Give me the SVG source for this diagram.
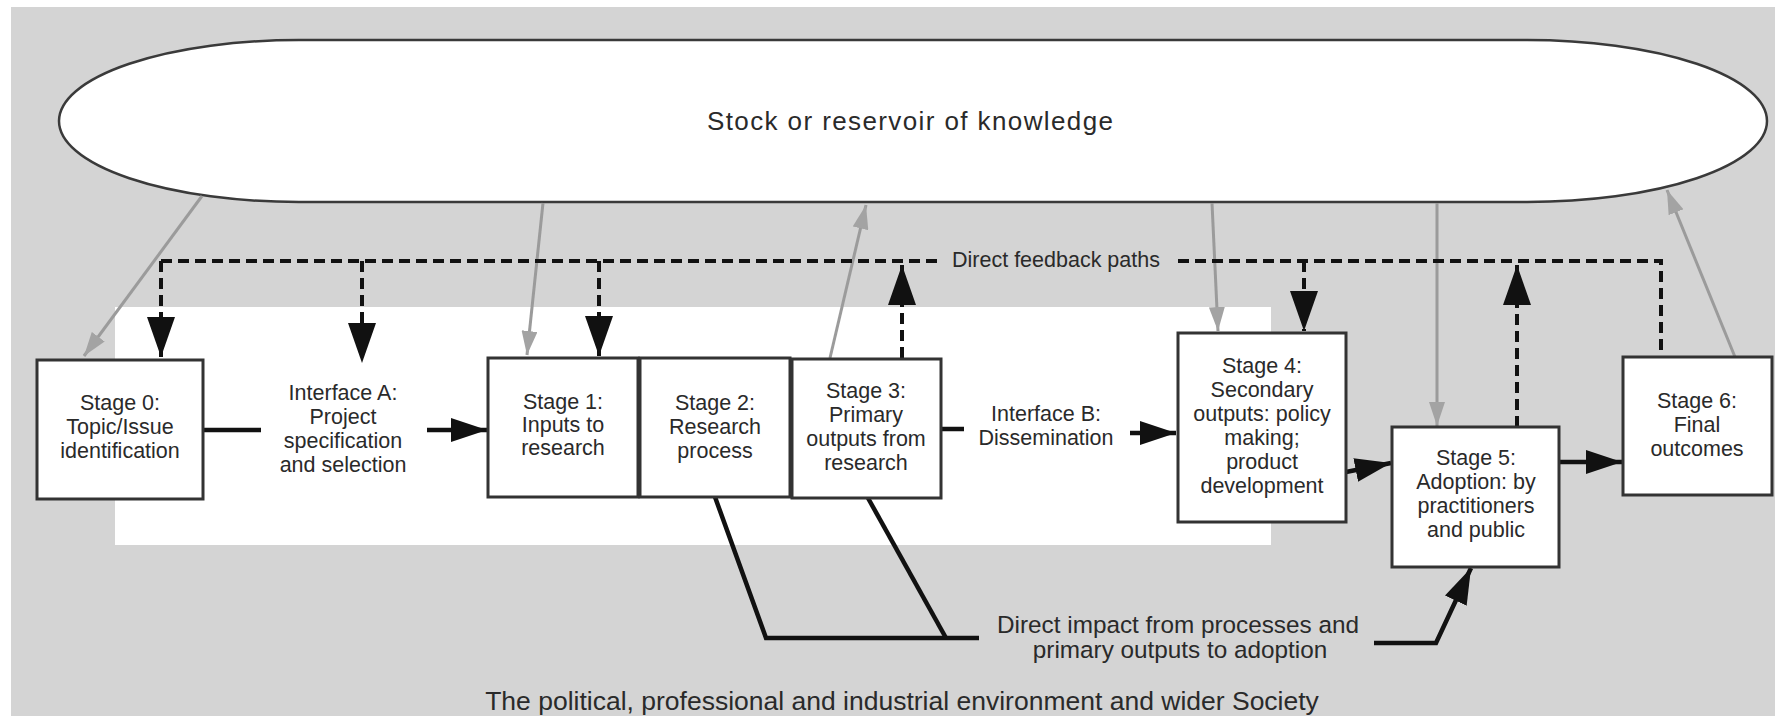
<svg xmlns="http://www.w3.org/2000/svg" width="1785" height="716" viewBox="0 0 1785 716">
<defs>
<style>
.t{font-family:"Liberation Sans",Arial,Helvetica,sans-serif;fill:#2a2a2a;text-anchor:middle}
.lbl{font-size:21.5px}
.box{fill:#ffffff;stroke:#333333;stroke-width:3}
.gray{fill:none;stroke:#9b9b9b;stroke-width:3}
.dash{fill:none;stroke:#111111;stroke-width:4;stroke-dasharray:11 6}
.flow{fill:none;stroke:#111111;stroke-width:4.5}
</style>
<marker id="ahBig" markerUnits="userSpaceOnUse" markerWidth="40" markerHeight="28" refX="40" refY="14" orient="auto" viewBox="0 0 40 28">
<path d="M0,0 L40,14 L0,28 z" fill="#111111"/>
</marker>
<marker id="ahFlow" markerUnits="userSpaceOnUse" markerWidth="36" markerHeight="24" refX="36" refY="12" orient="auto" viewBox="0 0 36 24">
<path d="M0,0 L36,12 L0,24 z" fill="#111111"/>
</marker>
<marker id="ahGray" markerUnits="userSpaceOnUse" markerWidth="24" markerHeight="16" refX="24" refY="8" orient="auto" viewBox="0 0 24 16">
<path d="M0,0 L24,8 L0,16 z" fill="#a3a3a3"/>
</marker>
</defs>

<rect x="0" y="0" width="1785" height="716" fill="#ffffff"/>
<g id="environment">
<rect x="11" y="7" width="1764" height="709" fill="#d4d4d4"/>
<rect x="115" y="307" width="1156" height="238" fill="#ffffff"/>
<text class="t" x="902" y="710" font-size="26.5">The political, professional and industrial environment and wider Society</text>
</g>

<g id="knowledge">
<rect x="59" y="40" width="1708" height="162" rx="240" ry="81" fill="#ffffff" stroke="#3a3a3a" stroke-width="2.5"/>
<text class="t" x="910" y="130" font-size="26" textLength="406" lengthAdjust="spacing">Stock or reservoir of knowledge</text>
</g>

<g id="connectors">
<!-- grey links with the knowledge reservoir -->
<path class="gray" d="M202,196 L84,356" marker-end="url(#ahGray)"/>
<path class="gray" d="M543,203 L527,355" marker-end="url(#ahGray)"/>
<path class="gray" d="M830,358 L866,205" marker-end="url(#ahGray)"/>
<path class="gray" d="M1212,203 L1218,331" marker-end="url(#ahGray)"/>
<path class="gray" d="M1437,203 L1437,426" marker-end="url(#ahGray)"/>
<path class="gray" d="M1735,357 L1667,190" marker-end="url(#ahGray)"/>
<!-- direct feedback paths -->
<path class="dash" d="M161,261 L938,261"/>
<path class="dash" d="M1178,261 L1661,261 L1661,357"/>
<path class="dash" d="M161,261 L161,357" marker-end="url(#ahBig)"/>
<path class="dash" d="M362,261 L362,363" marker-end="url(#ahBig)"/>
<path class="dash" d="M599,261 L599,356" marker-end="url(#ahBig)"/>
<path class="dash" d="M902,358 L902,265" marker-end="url(#ahBig)"/>
<path class="dash" d="M1304,261 L1304,331" marker-end="url(#ahBig)"/>
<path class="dash" d="M1517,427 L1517,265" marker-end="url(#ahBig)"/>
<text class="t" x="1056" y="267" font-size="21.5">Direct feedback paths</text>
<!-- main flow -->
<path class="flow" d="M203,430 L261,430"/>
<path class="flow" d="M427,430 L487,430" marker-end="url(#ahFlow)"/>
<path class="flow" d="M941,429 L964,429"/>
<path class="flow" d="M1130,433 L1176,433" marker-end="url(#ahFlow)"/>
<path class="flow" d="M1346,472 L1391,463" marker-end="url(#ahFlow)"/>
<path class="flow" d="M1559,462 L1622,462" marker-end="url(#ahFlow)"/>
<!-- direct impact -->
<path class="flow" d="M715,497 L766,638 L979,638"/>
<path class="flow" d="M868,498 L946,638"/>
<path class="flow" d="M1374,643 L1436,643 L1471,568" marker-end="url(#ahFlow)"/>
<text class="t" x="1178" y="633" font-size="24.3">Direct impact from processes and</text>
<text class="t" x="1180" y="658" font-size="24.3">primary outputs to adoption</text>
</g>

<g id="stage0">
<rect class="box" x="37" y="360" width="166" height="139"/>
<text class="t lbl" x="120"><tspan x="120" y="410">Stage 0:</tspan><tspan x="120" y="434">Topic/Issue</tspan><tspan x="120" y="458">identification</tspan></text>
</g>

<g id="interfaceA">
<text class="t lbl" x="343"><tspan x="343" y="400">Interface A:</tspan><tspan x="343" y="424">Project</tspan><tspan x="343" y="448">specification</tspan><tspan x="343" y="472">and selection</tspan></text>
</g>

<g id="stage1">
<rect class="box" x="488" y="358" width="150" height="139"/>
<text class="t lbl" x="563"><tspan x="563" y="409">Stage 1:</tspan><tspan x="563" y="432">Inputs to</tspan><tspan x="563" y="455">research</tspan></text>
</g>

<g id="stage2">
<rect class="box" x="640" y="358" width="150" height="139"/>
<text class="t lbl" x="715"><tspan x="715" y="410">Stage 2:</tspan><tspan x="715" y="434">Research</tspan><tspan x="715" y="458">process</tspan></text>
</g>

<g id="stage3">
<rect class="box" x="792" y="359" width="149" height="139"/>
<text class="t lbl" x="866"><tspan x="866" y="398">Stage 3:</tspan><tspan x="866" y="422">Primary</tspan><tspan x="866" y="446">outputs from</tspan><tspan x="866" y="470">research</tspan></text>
</g>

<g id="interfaceB">
<text class="t lbl" x="1046"><tspan x="1046" y="421">Interface B:</tspan><tspan x="1046" y="445">Dissemination</tspan></text>
</g>

<g id="stage4">
<rect class="box" x="1178" y="333" width="168" height="189"/>
<text class="t lbl" x="1262"><tspan x="1262" y="373">Stage 4:</tspan><tspan x="1262" y="397">Secondary</tspan><tspan x="1262" y="421">outputs: policy</tspan><tspan x="1262" y="445">making;</tspan><tspan x="1262" y="469">product</tspan><tspan x="1262" y="493">development</tspan></text>
</g>

<g id="stage5">
<rect class="box" x="1392" y="427" width="167" height="140"/>
<text class="t lbl" x="1476"><tspan x="1476" y="465">Stage 5:</tspan><tspan x="1476" y="489">Adoption: by</tspan><tspan x="1476" y="513">practitioners</tspan><tspan x="1476" y="537">and public</tspan></text>
</g>

<g id="stage6">
<rect class="box" x="1623" y="357" width="149" height="138"/>
<text class="t lbl" x="1697"><tspan x="1697" y="408">Stage 6:</tspan><tspan x="1697" y="432">Final</tspan><tspan x="1697" y="456">outcomes</tspan></text>
</g>
</svg>
